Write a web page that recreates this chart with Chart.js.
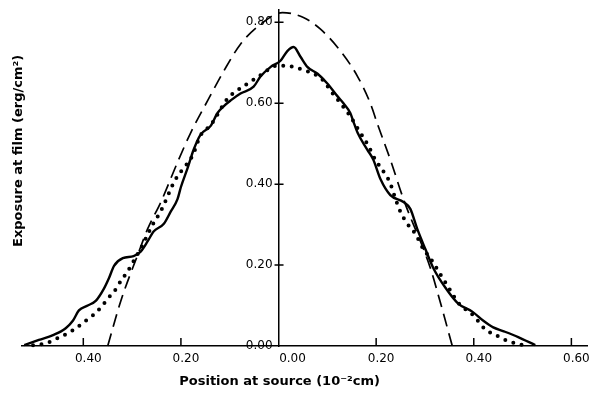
<!DOCTYPE html>
<html><head><meta charset="utf-8">
<script src="https://cdn.jsdelivr.net/npm/chart.js@4"></script>
<style>html,body{margin:0;padding:0;background:#fff}#wrap{width:592px;height:394px}</style>
</head><body><div id="wrap"><canvas id="c" width="592" height="394"></canvas></div>
<script>
// Measured exposure (solid line)
const solidX = [-0.521,-0.491,-0.462,-0.436,-0.421,-0.409,-0.391,-0.374,-0.358,-0.348,-0.337,-0.319,-0.297,-0.282,-0.268,-0.256,-0.235,-0.221,-0.207,-0.200,-0.186,-0.174,-0.160,-0.139,-0.125,-0.112,-0.098,-0.078,-0.051,-0.037,-0.016,0.004,0.018,0.031,0.045,0.059,0.080,0.100,0.121,0.133,0.147,0.153,0.162,0.182,0.194,0.209,0.229,0.256,0.270,0.284,0.301,0.317,0.342,0.368,0.397,0.419,0.440,0.460,0.491,0.526];
const solidY = [0.002,0.015,0.027,0.044,0.063,0.088,0.100,0.112,0.141,0.166,0.198,0.217,0.222,0.234,0.259,0.283,0.302,0.332,0.363,0.393,0.441,0.485,0.522,0.544,0.576,0.593,0.607,0.624,0.641,0.666,0.690,0.705,0.729,0.739,0.715,0.690,0.673,0.649,0.617,0.600,0.576,0.556,0.527,0.485,0.461,0.412,0.373,0.356,0.339,0.290,0.239,0.193,0.144,0.105,0.085,0.063,0.046,0.037,0.022,0.002];
// Dotted curve
const dottedX = [-0.503,-0.476,-0.452,-0.431,-0.415,-0.399,-0.380,-0.364,-0.350,-0.333,-0.323,-0.309,-0.297,-0.278,-0.258,-0.241,-0.227,-0.217,-0.207,-0.190,-0.176,-0.160,-0.139,-0.104,-0.084,-0.063,-0.041,-0.002,0.014,0.031,0.049,0.072,0.092,0.106,0.127,0.147,0.164,0.184,0.198,0.219,0.229,0.235,0.249,0.264,0.280,0.297,0.311,0.331,0.352,0.368,0.403,0.417,0.440,0.454,0.470,0.485,0.501];
const dottedY = [0.002,0.007,0.020,0.032,0.044,0.059,0.076,0.095,0.117,0.141,0.161,0.185,0.210,0.251,0.300,0.334,0.371,0.398,0.420,0.446,0.471,0.520,0.546,0.612,0.632,0.649,0.666,0.693,0.693,0.690,0.683,0.673,0.656,0.632,0.600,0.568,0.534,0.495,0.461,0.424,0.402,0.380,0.334,0.302,0.278,0.239,0.217,0.178,0.137,0.107,0.071,0.049,0.029,0.022,0.012,0.007,0.002];
// Dashed curve
const dashedX = [-0.350,-0.323,-0.288,-0.268,-0.241,-0.207,-0.180,-0.145,-0.112,-0.078,-0.037,0.008,0.051,0.086,0.127,0.162,0.188,0.202,0.229,0.256,0.311,0.331,0.356];
const dashedY = [0.000,0.112,0.227,0.290,0.356,0.454,0.527,0.607,0.680,0.746,0.795,0.824,0.812,0.783,0.729,0.666,0.600,0.551,0.461,0.363,0.193,0.110,0.000];
// Ticks
const xTickValues = [-0.4,-0.2,0,0.2,0.4,0.6];
const xTickLabels = ['0.40','0.20','0.00','0.20','0.40','0.60'];
const yTickValues = [0,0.2,0.4,0.6,0.8];
const yTickLabels = ['0.00','0.20','0.40','0.60','0.80'];
const xTitle = 'Position at source (10\u207B\u00B2cm)';
const yTitle = 'Exposure at film (erg/cm\u00B2)';

const pts = (xs, ys) => xs.map((v, i) => ({x: v, y: ys[i]}));

const tickMarks = {
  id: 'tickMarks',
  afterDraw(chart) {
    const {ctx, scales: {x, y}} = chart;
    const y0 = y.getPixelForValue(0);
    const x0 = x.getPixelForValue(0);
    ctx.save();
    ctx.strokeStyle = '#000';
    ctx.lineWidth = 1.5;
    ctx.beginPath();
    xTickValues.forEach(v => { if (v === 0) return; const px = x.getPixelForValue(v); ctx.moveTo(px, y0); ctx.lineTo(px, y0 - 8); });
    yTickValues.forEach(v => { if (v === 0) return; const py = y.getPixelForValue(v); ctx.moveTo(x0 - 4, py); ctx.lineTo(x0 + 5, py); });
    ctx.stroke();
    ctx.restore();
  }
};

const tickFont = {family: 'DejaVu Sans', size: 12};
const titleFont = {family: 'DejaVu Sans', size: 13, weight: 'bold'};

new Chart(document.getElementById('c'), {
  type: 'scatter',
  data: { datasets: [
    {label: 'measured', data: pts(solidX, solidY), showLine: true, borderColor: '#000', borderWidth: 2.4, pointRadius: 0, cubicInterpolationMode: 'monotone', clip: false},
    {label: 'dotted', data: pts(dottedX, dottedY), showLine: true, borderColor: '#000', borderWidth: 4, borderDash: [0, 8.5], borderCapStyle: 'round', pointRadius: 0, cubicInterpolationMode: 'monotone', clip: false},
    {label: 'dashed', data: pts(dashedX, dashedY), showLine: true, borderColor: '#000', borderWidth: 1.7, borderDash: [13, 7], pointRadius: 0, cubicInterpolationMode: 'monotone', clip: false}
  ]},
  options: {
    responsive: false,
    animation: false,
    devicePixelRatio: 1,
    layout: {padding: {top: 6, right: 5, left: -7, bottom: 0}},
    plugins: {legend: {display: false}, tooltip: {enabled: false}},
    scales: {
      x: {
        type: 'linear', position: 'bottom', min: -0.5256, max: 0.632,
        afterBuildTicks: s => { s.ticks = xTickValues.map(v => ({value: v})); },
        ticks: {padding: 6, labelOffset: 5, color: '#000', font: tickFont, maxRotation: 0, autoSkip: false,
          callback: (v, i) => (xTickValues[i] === 0 ? '\u2003\u2002' : '') + xTickLabels[i]},
        grid: {display: true, drawOnChartArea: false, drawTicks: false},
        border: {display: true, color: '#000', width: 1.5},
        title: {display: true, text: xTitle + '           ', color: '#000', font: titleFont, padding: {top: 1.8, bottom: 4.2}}
      },
      y: {
        type: 'linear', position: {x: 0}, min: 0, max: 0.83,
        afterBuildTicks: s => { s.ticks = yTickValues.map(v => ({value: v})); },
        ticks: {color: '#000', font: tickFont, autoSkip: false, callback: (v, i) => yTickLabels[i] + '\u2002'},
        grid: {display: true, drawOnChartArea: false, drawTicks: false},
        border: {display: true, color: '#000', width: 1.5}
      },
      yTitle: {
        type: 'linear', position: 'left', min: 0, max: 1, display: true,
        ticks: {display: false}, grid: {display: false}, border: {display: false},
        title: {display: true, text: '            ' + yTitle, color: '#000', font: titleFont, padding: {top: 18.2, bottom: -12.8}}
      }
    }
  },
  plugins: [tickMarks]
});
</script>
</body></html>
